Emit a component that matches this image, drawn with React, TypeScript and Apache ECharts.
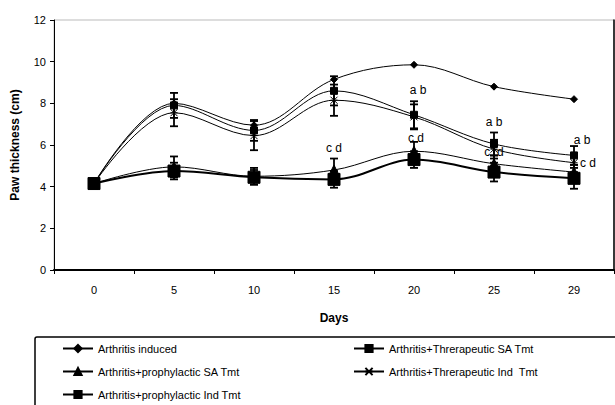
import React, { useEffect, useRef } from "react";
import * as echarts from "echarts";

const days = ["0", "5", "10", "15", "20", "25", "29"];
const yTicks = [0, 2, 4, 6, 8, 10, 12];

const nameInduced = "Arthritis induced";
const nameTherSA = "Arthritis+Threrapeutic SA Tmt";
const nameProSA = "Arthritis+prophylactic SA Tmt";
const nameTherInd = "Arthritis+Threrapeutic Ind  Tmt";
const nameProInd = "Arthritis+prophylactic Ind Tmt";

const induced = [4.15, 8.0, 6.95, 9.15, 9.85, 8.8, 8.2];
const therSA = [4.15, 7.9, 6.7, 8.6, 7.45, 6.05, 5.5];
const proSA = [4.15, 4.95, 4.5, 4.8, 5.7, 5.1, 4.7];
const therInd = [4.15, 7.55, 6.45, 8.15, 7.35, 5.8, 5.15];
const proInd = [4.15, 4.75, 4.45, 4.35, 5.3, 4.7, 4.4];

const errTherSA = [0.2, 0.6, 0.5, 0.7, 0.65, 0.55, 0.45];
const errTherInd = [0.2, 0.65, 0.7, 0.75, 0.6, 0.45, 0.45];
const errProSA = [0.2, 0.5, 0.4, 0.55, 0.45, 0.4, 0.35];
const errProInd = [0.25, 0.4, 0.35, 0.4, 0.4, 0.45, 0.5];

// annotation labels: [day index, y value, text, x offset]
const notes: [number, number, string, number][] = [
  [3, 5.85, "c d", 0],
  [4, 8.65, "a b", 4],
  [4, 6.35, "c d", 2],
  [5, 7.1, "a b", 0],
  [5, 5.65, "c  d", 0],
  [6, 6.25, "a b", 8],
  [6, 5.15, "c d", 14],
];

const FONT = "Liberation Sans, Arial, sans-serif";

function errData(mean: number[], err: number[]) {
  return mean.map((m, i) => [i, m - err[i], m + err[i]]);
}

function errSeries(mean: number[], err: number[]) {
  return {
    type: "custom",
    data: errData(mean, err),
    encode: { x: 0, y: [1, 2] },
    z: 1,
    silent: true,
    renderItem: (params: any, api: any) => {
      const x = api.value(0);
      const lo = api.coord([x, api.value(1)]);
      const hi = api.coord([x, api.value(2)]);
      const hw = 4;
      const st = { stroke: "#000", lineWidth: 1.8 };
      return {
        type: "group",
        children: [
          { type: "line", shape: { x1: lo[0], y1: lo[1], x2: hi[0], y2: hi[1] }, style: st },
          { type: "line", shape: { x1: lo[0] - hw, y1: lo[1], x2: lo[0] + hw, y2: lo[1] }, style: st },
          { type: "line", shape: { x1: hi[0] - hw, y1: hi[1], x2: hi[0] + hw, y2: hi[1] }, style: st },
        ],
      };
    },
  };
}

function lineSeries(name: string, data: number[], symbol: string, size: number, width: number) {
  return {
    name,
    type: "line",
    data,
    smooth: 0.35,
    symbol,
    symbolSize: size,
    z: 3,
    lineStyle: { color: "#000", width },
    itemStyle: { color: "#000", borderColor: "#000", borderWidth: 1 },
  };
}

export default function App() {
  const ref = useRef<HTMLDivElement>(null);
  useEffect(() => {
    if (!ref.current) return;
    const chart = echarts.init(ref.current, undefined, { renderer: "svg" });
    const legendText = { fontFamily: FONT, fontSize: 11, color: "#000" };
    chart.setOption({
      animation: false,
      backgroundColor: "#fff",
      grid: {
        left: 54,
        right: 1,
        top: 20,
        bottom: 135,
        show: true,
        borderColor: "#bbb",
        borderWidth: 1,
        outerBoundsMode: "none",
        containLabel: false,
      },
      xAxis: {
        type: "category",
        data: days,
        boundaryGap: true,
        name: "Days",
        nameLocation: "middle",
        nameGap: 42,
        nameTextStyle: { fontFamily: FONT, fontWeight: "bold", fontSize: 12, color: "#000" },
        axisLine: { lineStyle: { color: "#000", width: 2 } },
        axisTick: { show: true, length: 4, lineStyle: { color: "#000" } },
        axisLabel: { fontFamily: FONT, fontSize: 11, color: "#000", margin: 14 },
      },
      yAxis: [
        {
          type: "value",
          min: 0,
          max: 12,
          interval: 2,
          name: "Paw thickness (cm)",
          nameLocation: "middle",
          nameGap: 33,
          nameTextStyle: { fontFamily: FONT, fontWeight: "bold", fontSize: 12, color: "#000" },
          axisLine: { show: true, lineStyle: { color: "#000", width: 1 } },
          axisTick: { show: true, length: 4, lineStyle: { color: "#000" } },
          axisLabel: { fontFamily: FONT, fontSize: 11, color: "#000", margin: 8, customValues: yTicks },
          splitLine: { show: false },
        },
        {
          type: "value",
          min: 0,
          max: 12,
          position: "right",
          axisLine: { show: true, lineStyle: { color: "#000", width: 1.5 } },
          axisTick: { show: false },
          axisLabel: { show: false },
          splitLine: { show: false },
        },
      ],
      legend: [
        {
          left: 62,
          top: 343,
          orient: "vertical",
          padding: 0,
          itemWidth: 30,
          itemHeight: 9,
          itemGap: 12,
          textStyle: legendText,
          data: [nameInduced, nameProSA, nameProInd],
        },
        {
          left: 353,
          top: 343,
          orient: "vertical",
          padding: 0,
          itemWidth: 30,
          itemHeight: 9,
          itemGap: 12,
          textStyle: legendText,
          data: [nameTherSA, nameTherInd],
        },
      ],
      graphic: [
        {
          type: "rect",
          shape: { x: 35, y: 337, width: 620, height: 120, r: 2 },
          style: { fill: "none", stroke: "#000", lineWidth: 1.5 },
          silent: true,
        },
      ],
      series: [
        errSeries(therSA, errTherSA),
        errSeries(therInd, errTherInd),
        errSeries(proSA, errProSA),
        errSeries(proInd, errProInd),
        lineSeries(nameInduced, induced, "diamond", 7, 1),
        lineSeries(nameTherSA, therSA, "rect", 7, 1),
        lineSeries(nameProSA, proSA, "triangle", 10, 1),
        lineSeries(nameTherInd, therInd, "path://M0,0L10,10M10,0L0,10M0,5L10,5", 7, 1),
        lineSeries(nameProInd, proInd, "rect", 12, 2),
        {
          type: "custom",
          data: notes.map((n) => [n[0], n[1], n[3]]),
          encode: { x: 0, y: 1 },
          silent: true,
          z: 5,
          renderItem: (params: any, api: any) => {
            const p = api.coord([api.value(0), api.value(1)]);
            return {
              type: "text",
              x: p[0] + api.value(2),
              y: p[1],
              style: {
                text: notes[params.dataIndex][2],
                fill: "#000",
                font: "12px " + FONT,
                align: "center",
                verticalAlign: "middle",
              },
            };
          },
        },
      ],
    });
    return () => chart.dispose();
  }, []);
  return (
    <div
      ref={ref}
      style={{ position: "absolute", left: 0, top: 0, width: 615, height: 405 }}
    />
  );
}
